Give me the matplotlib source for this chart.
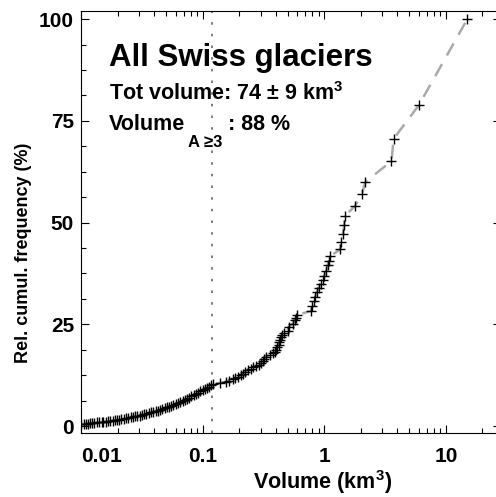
import matplotlib
matplotlib.use("Agg")
import matplotlib.pyplot as plt
from matplotlib.ticker import FixedLocator, FuncFormatter, AutoMinorLocator, LogLocator, NullFormatter

plt.rcParams['font.family'] = ['Liberation Sans', 'DejaVu Sans']
plt.rcParams['font.weight'] = 'bold'
plt.rcParams['mathtext.fontset'] = 'custom'
plt.rcParams['mathtext.rm'] = 'Liberation Sans:bold'
plt.rcParams['mathtext.bf'] = 'Liberation Sans:bold'
plt.rcParams['mathtext.it'] = 'Liberation Sans:bold'

# glacier volume (km3) and relative cumulative frequency (%)
volume = [
    0.0100, 0.0105, 0.0109, 0.0114, 0.0118, 0.0124, 0.0129, 0.0135, 0.0141, 0.0148,
    0.0153, 0.0161, 0.0168, 0.0174, 0.0183, 0.0190, 0.0198, 0.0207, 0.0215, 0.0226,
    0.0235, 0.0244, 0.0256, 0.0266, 0.0279, 0.0290, 0.0303, 0.0316, 0.0331, 0.0345,
    0.0360, 0.0377, 0.0392, 0.0410, 0.0426, 0.0447, 0.0465, 0.0486, 0.0505, 0.0528,
    0.0552, 0.0575, 0.0600, 0.0627, 0.0655, 0.0684, 0.0712, 0.0743, 0.0775, 0.0809,
    0.0844, 0.0880, 0.0918, 0.0960, 0.1000, 0.1045, 0.1090, 0.1135, 0.1180, 0.1225,
    0.138, 0.156, 0.165, 0.177, 0.186, 0.195, 0.205, 0.214, 0.225, 0.235,
    0.248, 0.259, 0.275, 0.293, 0.302, 0.312, 0.322, 0.333, 0.355, 0.377,
    0.390, 0.400, 0.412, 0.423, 0.428, 0.434, 0.440, 0.447, 0.470, 0.500,
    0.510, 0.550, 0.570, 0.585, 0.600, 0.780, 0.800, 0.820, 0.840, 0.870,
    0.900, 0.940, 0.970, 0.990, 1.04, 1.07, 1.09, 1.11, 1.35, 1.38,
    1.43, 1.46, 1.48, 1.80, 2.04, 2.18, 3.57, 3.72, 6.01, 15.0,
]
cum_freq = [
    0.4, 0.5, 0.6, 0.6, 0.7, 0.8, 0.8, 0.9, 0.9, 1.0,
    1.0, 1.1, 1.2, 1.2, 1.3, 1.4, 1.5, 1.6, 1.7, 1.8,
    1.9, 2.0, 2.2, 2.3, 2.4, 2.5, 2.6, 2.8, 2.9, 3.0,
    3.2, 3.4, 3.5, 3.7, 3.8, 4.0, 4.2, 4.4, 4.6, 4.8,
    5.0, 5.2, 5.4, 5.6, 5.9, 6.2, 6.4, 6.7, 7.0, 7.3,
    7.6, 7.9, 8.2, 8.5, 8.8, 9.1, 9.4, 9.7, 10.0, 10.3,
    10.6, 10.9, 11.2, 11.5, 11.8, 12.1, 12.5, 12.9, 13.3, 13.8,
    14.1, 14.4, 14.8, 15.1, 15.6, 16.1, 16.5, 17.0, 17.5, 17.9,
    18.3, 18.8, 19.4, 20.0, 20.6, 21.2, 22.0, 22.5, 22.9, 23.3,
    24.4, 25.2, 26.0, 26.6, 27.3, 28.3, 29.5, 30.7, 31.8, 32.9,
    33.9, 35.0, 35.8, 36.9, 38.2, 39.6, 40.6, 41.7, 43.4, 45.2,
    47.3, 49.4, 51.6, 54.2, 57.0, 60.0, 65.1, 70.6, 78.9, 100.0,
]

threshold_volume = 0.12
x_ticks = [0.01, 0.1, 1, 10]
y_ticks = [0, 25, 50, 75, 100]

W, H = 496, 497
fig = plt.figure(figsize=(W / 100, H / 100), dpi=100)
ax = fig.add_axes([81 / W, 1 - 433 / H, (501 - 81) / W, (433 - 11) / H])

ax.plot(volume, cum_freq, color='#aaaaaa', lw=1.8, dashes=(5.5, 4), zorder=2)
ax.plot(volume, cum_freq, ls='none', marker='+', ms=7.5, mew=1.0, color='black', zorder=3)
ax.axvline(threshold_volume, color='#666666', lw=1.2, dashes=(1.5, 5.5), zorder=1)

ax.set_xscale('log')
ax.set_xlim(0.01, 28.4)
ax.set_ylim(-1.7, 102)

ax.xaxis.set_major_locator(FixedLocator(x_ticks))
ax.xaxis.set_major_formatter(FuncFormatter(lambda v, p: '%g' % v))
ax.xaxis.set_minor_locator(LogLocator(base=10, subs=range(2, 10)))
ax.xaxis.set_minor_formatter(NullFormatter())
ax.yaxis.set_major_locator(FixedLocator(y_ticks))
ax.yaxis.set_minor_locator(AutoMinorLocator(4))

ax.tick_params(which='both', direction='in', top=True, right=True, width=0.8)
ax.tick_params(which='major', length=6)
ax.tick_params(which='minor', length=3.5)
ax.tick_params(axis='x', which='major', labelsize=15, pad=10)
ax.tick_params(axis='y', which='major', labelsize=15, pad=5)
for lab in ax.get_xticklabels():
    lab.set_fontweight('bold')
for lab in ax.get_yticklabels():
    lab.set_fontweight('bold')
fig.canvas.draw()
ax.get_xticklabels()[0].set_horizontalalignment('left')

for s in ax.spines.values():
    s.set_linewidth(0.8)


def px(x, y):
    return x / W, 1 - y / H


fig.text(*px(109, 66), 'All Swiss glaciers', fontsize=22.5, fontweight='bold', va='baseline')
fig.text(*px(109, 100), 'Tot volume: 74 ± 9 km$^{3}$', fontsize=15.5, fontweight='bold', va='baseline')
fig.text(*px(109, 130), 'Volume', fontsize=15.5, fontweight='bold', va='baseline')
fig.text(*px(188, 147), 'A ≥3', fontsize=12, fontweight='bold', va='baseline')
fig.text(*px(228, 130), ': 88 %', fontsize=15.5, fontweight='bold', va='baseline')

fig.text(*px(323, 489), 'Volume (km$^{3}$)', fontsize=15.5, fontweight='bold', ha='center', va='baseline')
fig.text(*px(24, 253), 'Rel. cumul. frequency (%)', fontsize=13, fontweight='bold',
         rotation=90, ha='center', va='center', rotation_mode='anchor')

fig.savefig('out.png', dpi=100)
